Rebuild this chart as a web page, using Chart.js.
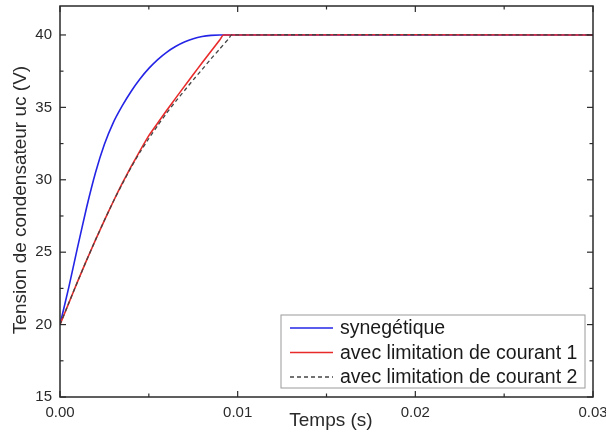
<!DOCTYPE html>
<html>
<head>
<meta charset="utf-8">
<script src="https://cdn.jsdelivr.net/npm/chart.js@4.4.1/dist/chart.umd.min.js"></script>
<style>
  html, body { margin: 0; padding: 0; background: #fff; }
  #wrap { width: 606px; height: 437px; }
</style>
</head>
<body>
<div id="wrap"><canvas id="uc"></canvas></div>
<script>
// Charge du condensateur : temps (s) et tension uc (V)
const tSyn = [0, 0.0005, 0.001, 0.0015, 0.002, 0.0025, 0.003, 0.0035, 0.004, 0.0045, 0.005, 0.0055, 0.006, 0.0065, 0.007, 0.0075, 0.008, 0.0085, 0.009, 0.03];
const uSyn = [20, 22.6, 25.4, 28.1, 30.5, 32.45, 33.95, 35.1, 36.1, 36.96, 37.69, 38.3, 38.8, 39.2, 39.51, 39.74, 39.89, 39.97, 40, 40];

const tLim1 = [0, 0.0005, 0.001, 0.0015, 0.002, 0.0025, 0.003, 0.0035, 0.004, 0.0045, 0.005, 0.0055, 0.006, 0.0065, 0.007, 0.0075, 0.008, 0.0085, 0.009, 0.0092, 0.03];
const uLim1 = [20, 21.5, 23.0, 24.45, 25.85, 27.2, 28.5, 29.75, 30.9, 32.0, 33.05, 33.92, 34.78, 35.62, 36.45, 37.27, 38.08, 38.88, 39.67, 40, 40];

const tLim2 = [0, 0.0005, 0.001, 0.0015, 0.002, 0.0025, 0.003, 0.0035, 0.004, 0.0045, 0.005, 0.0055, 0.006, 0.0065, 0.007, 0.0075, 0.008, 0.0085, 0.009, 0.0095, 0.00966, 0.03];
const uLim2 = [20, 21.5, 23.0, 24.45, 25.85, 27.2, 28.5, 29.7, 30.85, 31.9, 32.85, 33.75, 34.6, 35.4, 36.15, 36.9, 37.62, 38.35, 39.05, 39.75, 40, 40];

const seriesNames = ['synegétique', 'avec limitation de courant 1', 'avec limitation de courant 2'];

const xMajor = [0, 0.01, 0.02, 0.03];
const xMajorLabels = ['0.00', '0.01', '0.02', '0.03'];
const xMinor = [0.005, 0.015, 0.025];
const yMajor = [15, 20, 25, 30, 35, 40];
const yMinor = [17.5, 22.5, 27.5, 32.5, 37.5];

const toPts = (ts, vs) => ts.map((t, i) => ({ x: t, y: vs[i] }));

const FONT = '"Liberation Sans", Arial, sans-serif';

// cadre, graduations vers l'intérieur, titres et légende
const frame = {
    id: 'frame',
    afterDatasetsDraw(chart) {
        const ctx = chart.ctx;
        const a = chart.chartArea;
        const xs = chart.scales.x;
        const ys = chart.scales.y;
        ctx.save();
        ctx.strokeStyle = '#2a2a2a';
        ctx.lineWidth = 1.5;
        ctx.strokeRect(a.left, a.top, a.right - a.left, a.bottom - a.top);

        ctx.lineWidth = 1.2;
        const seg = (x1, y1, x2, y2) => { ctx.beginPath(); ctx.moveTo(x1, y1); ctx.lineTo(x2, y2); ctx.stroke(); };
        xMajor.forEach(v => { const p = xs.getPixelForValue(v); seg(p, a.bottom, p, a.bottom - 6); seg(p, a.top, p, a.top + 6); });
        xMinor.forEach(v => { const p = xs.getPixelForValue(v); seg(p, a.bottom, p, a.bottom - 3.5); seg(p, a.top, p, a.top + 3.5); });
        yMajor.forEach(v => { const p = ys.getPixelForValue(v); seg(a.left, p, a.left + 6, p); seg(a.right, p, a.right - 6, p); });
        yMinor.forEach(v => { const p = ys.getPixelForValue(v); seg(a.left, p, a.left + 3.5, p); seg(a.right, p, a.right - 3.5, p); });

        ctx.fillStyle = '#2a2a2a';
        ctx.font = '15px ' + FONT;
        ctx.textAlign = 'right';
        ctx.textBaseline = 'middle';
        yMajor.forEach(v => ctx.fillText(String(v), a.left - 8, ys.getPixelForValue(v)));
        ctx.textAlign = 'center';
        xMajor.forEach((v, i) => ctx.fillText(xMajorLabels[i], xs.getPixelForValue(v), a.bottom + 16));

        ctx.font = '19px ' + FONT;
        ctx.textBaseline = 'alphabetic';
        ctx.fillText('Temps (s)', 331, 426);
        ctx.save();
        ctx.translate(26, 200);
        ctx.rotate(-Math.PI / 2);
        ctx.fillText('Tension de condensateur uc (V)', 0, 0);
        ctx.restore();

        // légende
        const lx = 281, ly = 315, lw = 304, lh = 73;
        ctx.fillStyle = '#fff';
        ctx.fillRect(lx, ly, lw, lh);
        ctx.strokeStyle = '#9a9a9a';
        ctx.lineWidth = 1;
        ctx.strokeRect(lx, ly, lw, lh);
        ctx.font = '19.5px ' + FONT;
        ctx.textAlign = 'left';
        ctx.textBaseline = 'middle';
        chart.data.datasets.forEach((ds, i) => {
            const yy = ly + 13 + i * 24.5;
            ctx.strokeStyle = ds.borderColor;
            ctx.lineWidth = ds.borderWidth;
            ctx.setLineDash(ds.borderDash || []);
            seg(290, yy, 333, yy);
            ctx.setLineDash([]);
            ctx.fillStyle = '#1a1a1a';
            ctx.fillText(ds.label, 340, yy + 1);
        });
        ctx.restore();
    }
};

new Chart(document.getElementById('uc'), {
    type: 'line',
    data: {
        datasets: [
            { label: seriesNames[0], data: toPts(tSyn, uSyn), borderColor: '#2424e6', borderWidth: 1.6, order: 2 },
            { label: seriesNames[1], data: toPts(tLim1, uLim1), borderColor: '#e82a2a', borderWidth: 1.6, order: 1 },
            { label: seriesNames[2], data: toPts(tLim2, uLim2), borderColor: '#444', borderWidth: 1.3, borderDash: [4, 3], order: 0 }
        ]
    },
    options: {
        responsive: true,
        maintainAspectRatio: false,
        animation: false,
        layout: { padding: { left: 60, right: 13, top: 6, bottom: 40 } },
        elements: {
            point: { radius: 0 },
            line: { tension: 0.15, fill: false }
        },
        plugins: { legend: { display: false }, tooltip: { enabled: false } },
        scales: {
            x: { type: 'linear', min: 0, max: 0.03, display: false },
            y: { type: 'linear', min: 15, max: 42, display: false }
        }
    },
    plugins: [frame]
});
</script>
</body>
</html>
